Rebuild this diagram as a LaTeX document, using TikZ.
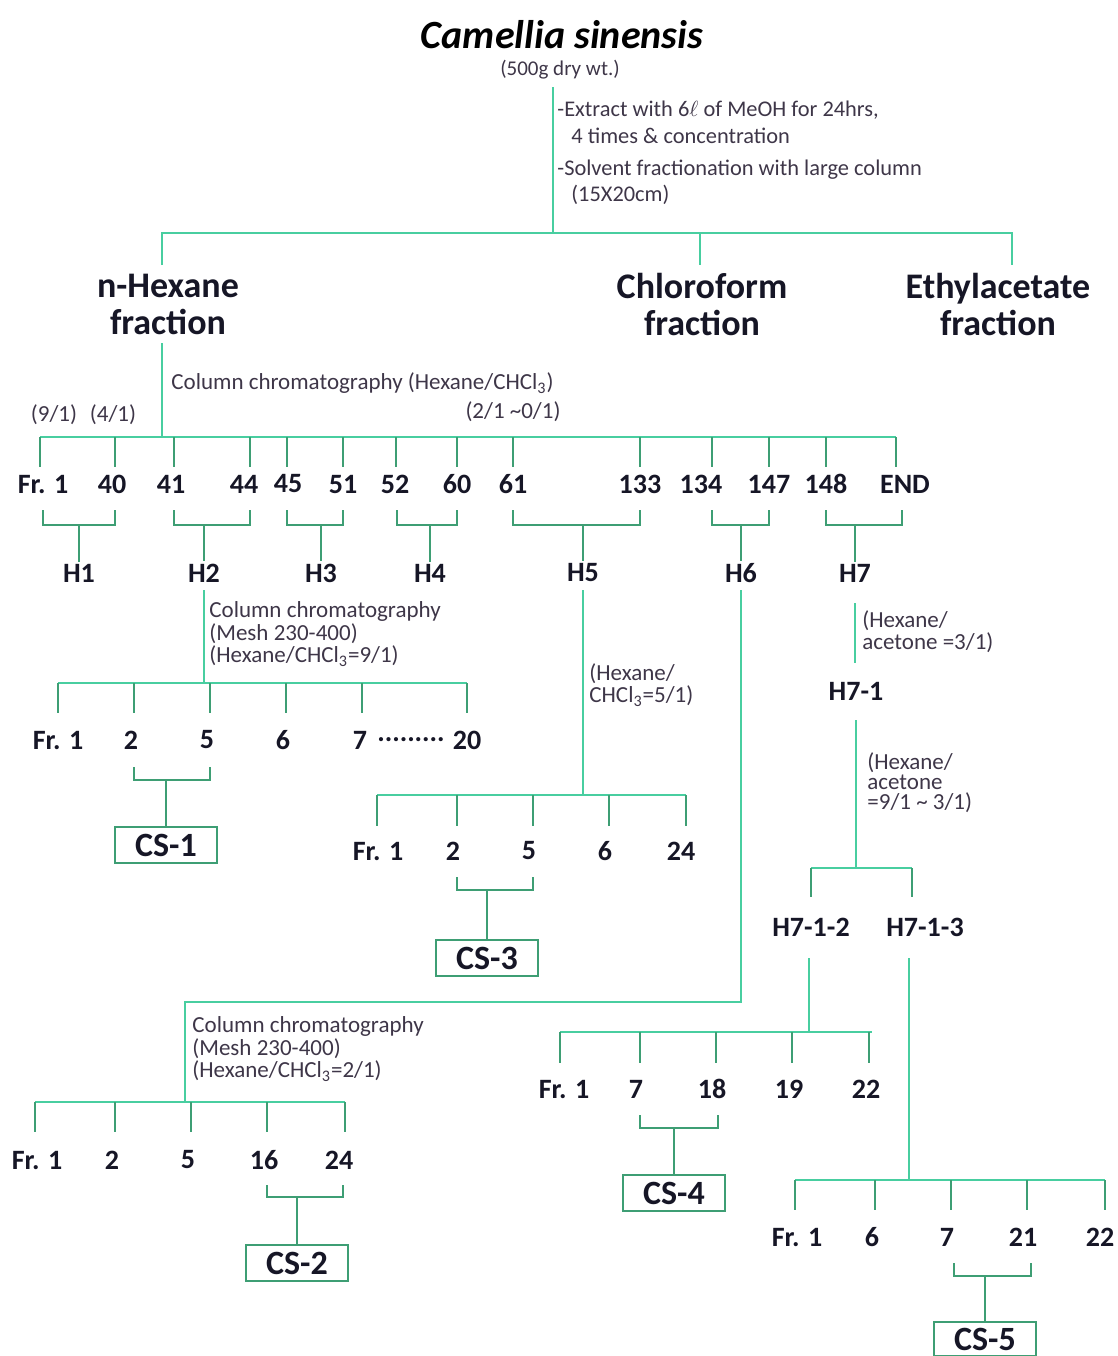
\documentclass[tikz,border=0pt]{standalone}
\usepackage{fontspec}
\setmainfont{Carlito}
\usetikzlibrary{positioning}
\definecolor{busgreen}{RGB}{72,206,160}
\definecolor{tickgreen}{RGB}{62,158,116}
\definecolor{notegray}{RGB}{62,54,72}
\definecolor{labink}{RGB}{22,22,38}
\tikzset{
  bus/.style={draw=busgreen,line width=1.2pt},
  tick/.style={draw=tickgreen,line width=0.9pt},
  lab/.style={font=\fontsize{14}{14}\selectfont\bfseries,text=labink,inner sep=1pt},
  big/.style={font=\fontsize{18}{18.5}\selectfont\bfseries,text=labink,align=center,inner sep=1pt},
  note/.style={font=\fontsize{11.5}{12}\selectfont,text=notegray,anchor=west,align=left,inner sep=0pt},
  stack/.style={font=\fontsize{11.5}{10}\selectfont,text=notegray,anchor=west,align=left,inner sep=0pt},
  csbox/.style={draw=tickgreen,line width=0.9pt,minimum width=51pt,minimum height=18pt,inner sep=0pt,
    font=\fontsize{17}{17}\selectfont\bfseries,text=labink}
}
\begin{document}
\begin{tikzpicture}[x=0.5pt,y=-0.5pt]
  \useasboundingbox (0,0) rectangle (1118,1356);

  % source and extraction
  \node[font=\fontsize{20}{20}\selectfont\bfseries\itshape] (title) at (562,35) {Camellia sinensis};
  \node[note,anchor=center,font=\fontsize{10.5}{11}\selectfont] (dry) at (560,70) {(500g dry wt.)};
  \draw[bus] (553,87) -- (553,233);
  \node[note,font=\fontsize{11.2}{12}\selectfont] (ext1) at (557,110) {-Extract with 6$\ell$ of MeOH for 24hrs,};
  \node[note,font=\fontsize{11.2}{12}\selectfont] (ext2) at (571,136) {4 times \& concentration};
  \node[note,font=\fontsize{11.2}{12}\selectfont] (sol1) at (557,170) {-Solvent fractionation with large column};
  \node[note,font=\fontsize{11.2}{12}\selectfont] (sol2) at (571,195) {(15X20cm)};

  \draw[bus] (162,265) -- (162,233) -- (1012,233) -- (1012,265);
  \draw[bus] (700,233) -- (700,265);
  \node[big] (hex) at (168,304) {n-Hexane\\fraction};
  \node[big] (chl) at (702,304) {Chloroform\\fraction};
  \node[big] (eth) at (998,304) {Ethylacetate\\fraction};

  % hexane column
  \draw[bus] (162,343) -- (162,437);
  \node[note] (cc1) at (171,383) {Column chromatography (Hexane/CHCl\textsubscript{3})};
  \node[note,anchor=center] (r91) at (54,415) {(9/1)};
  \node[note,anchor=center] (r41) at (113,415) {(4/1)};
  \node[note,anchor=center] (r21) at (513,412) {(2/1 \textasciitilde0/1)};
  \draw[bus] (40,437) -- (896,437);
  \foreach \x in {40,115,174,250,287,343,396,457,513,640,712,769,826,896}
    \draw[tick] (\x,437) -- (\x,467);
  \foreach \x/\t [count=\i] in {43/Fr. 1,112/40,171/41,244/44,288/45,343/51,395/52,
      457/60,513/61,640/133,701/134,769/147,826/148,905/END}
    \node[lab] (a\i) at (\x,484) {\t};
  \foreach \l/\r in {43/115,174/250,287/343,397/457,513/640,712/769,826/902}
    \draw[tick] (\l,510) |- (\r,525) -- (\r,510);
  \foreach \x [count=\n] in {79,204,321,430,583,741,855}
    \node[lab] (h\n) at (\x,573) {H\n};
  \foreach \n in {1,...,7}
    \draw[tick] (h\n.north |- 0,525) -- (h\n.north);

  % H2
  \draw[bus] (h2 |- 0,590) -- (h2 |- 0,683);
  \node[stack] (cc2) at (209,634) {Column chromatography\\(Mesh 230-400)\\(Hexane/CHCl\textsubscript{3}=9/1)};
  \draw[bus] (58,683) -- (467,683);
  \foreach \x in {58,134,210,286,362,467}
    \draw[tick] (\x,683) -- (\x,713);
  \foreach \x/\t [count=\i] in {58/Fr. 1,131/2,207/5,283/6,360/7,467/20}
    \node[lab] (b\i) at (\x,740) {\t};
  \node[lab] (bdots) at (411,740) {.........};
  \draw[tick] (134,767) |- (210,780) -- (210,767);
  \node[csbox] (cs1) at (166,845) {CS-1};
  \draw[tick] (cs1.north |- 0,780) -- (cs1.north);

  % H5
  \draw[bus] (h5 |- 0,590) -- (h5 |- 0,795);
  \node[stack] (cc5) at (589,685) {(Hexane/\\CHCl\textsubscript{3}=5/1)};
  \draw[bus] (377,795) -- (686,795);
  \foreach \x in {377,457,533,609,686}
    \draw[tick] (\x,795) -- (\x,826);
  \foreach \x/\t [count=\i] in {378/Fr. 1,453/2,529/5,605/6,681/24}
    \node[lab] (c\i) at (\x,851) {\t};
  \draw[tick] (457,877) |- (533,890) -- (533,877);
  \node[csbox] (cs3) at (487,958) {CS-3};
  \draw[tick] (cs3.north |- 0,890) -- (cs3.north);

  % H6
  \draw[bus] (h6 |- 0,590) -- (h6 |- 0,1002) -- (185,1002) -- (185,1102);
  \node[stack] (cc6) at (192,1049) {Column chromatography\\(Mesh 230-400)\\(Hexane/CHCl\textsubscript{3}=2/1)};
  \draw[bus] (35,1102) -- (345,1102);
  \foreach \x in {35,115,191,267,345}
    \draw[tick] (\x,1102) -- (\x,1132);
  \foreach \x/\t [count=\i] in {37/Fr. 1,112/2,188/5,264/16,339/24}
    \node[lab] (d\i) at (\x,1160) {\t};
  \draw[tick] (267,1185) |- (343,1197) -- (343,1185);
  \node[csbox] (cs2) at (297,1263) {CS-2};
  \draw[tick] (cs2.north |- 0,1197) -- (cs2.north);

  % H7
  \draw[bus] (h7 |- 0,603) -- (h7 |- 0,663);
  \node[stack] (cc7) at (862,632) {(Hexane/\\acetone =3/1)};
  \node[lab] (h71) at (856,691) {H7-1};
  \draw[bus] (h71 |- 0,720) -- (h71 |- 0,868);
  \node[stack] (cc71) at (867,783) {(Hexane/\\acetone\\=9/1 \textasciitilde{} 3/1)};
  \draw[bus] (811,868) -- (912,868);
  \draw[tick] (811,868) -- (811,897);
  \draw[tick] (912,868) -- (912,897);
  \node[lab] (h712) at (811,927) {H7-1-2};
  \node[lab] (h713) at (925,927) {H7-1-3};

  % H7-1-2
  \draw[bus] (809,958) -- (809,1032);
  \draw[bus] (560,1032) -- (872,1032);
  \foreach \x in {560,640,716,792,869}
    \draw[tick] (\x,1032) -- (\x,1063);
  \foreach \x/\t [count=\i] in {564/Fr. 1,636/7,712/18,789/19,866/22}
    \node[lab] (e\i) at (\x,1089) {\t};
  \draw[tick] (640,1115) |- (718,1128) -- (718,1115);
  \node[csbox] (cs4) at (674,1193) {CS-4};
  \draw[tick] (cs4.north |- 0,1128) -- (cs4.north);

  % H7-1-3
  \draw[bus] (909,958) -- (909,1180);
  \draw[bus] (795,1180) -- (1105,1180);
  \foreach \x in {795,875,951,1027,1105}
    \draw[tick] (\x,1180) -- (\x,1210);
  \foreach \x/\t [count=\i] in {797/Fr. 1,872/6,947/7,1023/21,1100/22}
    \node[lab] (f\i) at (\x,1237) {\t};
  \draw[tick] (954,1263) |- (1031,1276) -- (1031,1263);
  \node[csbox,minimum height=17pt] (cs5) at (985,1339) {CS-5};
  \draw[tick] (cs5.north |- 0,1276) -- (cs5.north);
\end{tikzpicture}
\end{document}
